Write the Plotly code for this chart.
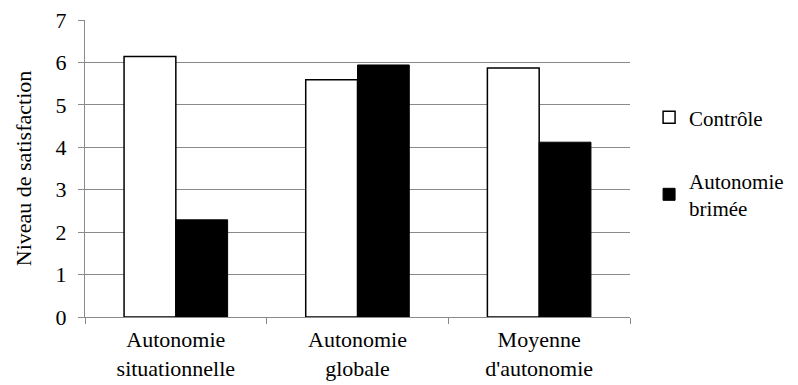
import plotly.graph_objects as go

categories = ["Autonomie<br>situationnelle", "Autonomie<br>globale", "Moyenne<br>d'autonomie"]
controle = [6.14, 5.59, 5.87]
brimee = [2.29, 5.94, 4.12]
y_ticks = [0, 1, 2, 3, 4, 5, 6, 7]

FONT = "Liberation Serif"
GRID = "#8a8a8a"

fig = go.Figure()
fig.add_trace(go.Bar(
    x=categories, y=controle, name="Contrôle",
    marker=dict(color="white", line=dict(color="black", width=1.5)),
    legendgroup="a",
))
fig.add_trace(go.Bar(
    x=categories, y=brimee, name="Autonomie<br>brimée",
    marker=dict(color="black", line=dict(color="black", width=1)),
    legendgroup="b",
))

fig.update_layout(
    width=790, height=377,
    margin=dict(l=77, r=168, t=12, b=68, autoexpand=False),
    paper_bgcolor="white", plot_bgcolor="white",
    font=dict(family=FONT, size=22, color="black"),
    barmode="group", bargap=0.43, bargroupgap=0,
    showlegend=True,
    legend=dict(
        x=1.035, y=0.74, xanchor="left", yanchor="top",
        traceorder="grouped", tracegroupgap=33,
        font=dict(family=FONT, size=21, color="black"),
        itemwidth=30,
    ),
    xaxis=dict(
        showgrid=False, showline=True, linecolor=GRID, linewidth=1,
        ticks="outside", tickson="boundaries", ticklen=6, tickcolor=GRID,
        tickfont=dict(family=FONT, size=22, color="black"),
        ticklabelstandoff=3,
        automargin=False,
    ),
    yaxis=dict(
        range=[0, 7.0001], tickvals=y_ticks, showgrid=True, gridcolor=GRID, gridwidth=1,
        showline=True, linecolor=GRID, linewidth=1, zeroline=False,
        ticks="outside", ticklen=6, tickcolor=GRID,
        tickfont=dict(family=FONT, size=22, color="black"),
        ticklabelstandoff=7, ticklabeloverflow="allow",
        title=dict(text="Niveau de satisfaction", font=dict(family=FONT, size=22, color="black"), standoff=17),
        automargin=False,
    ),
)

fig.write_html("out.html")
